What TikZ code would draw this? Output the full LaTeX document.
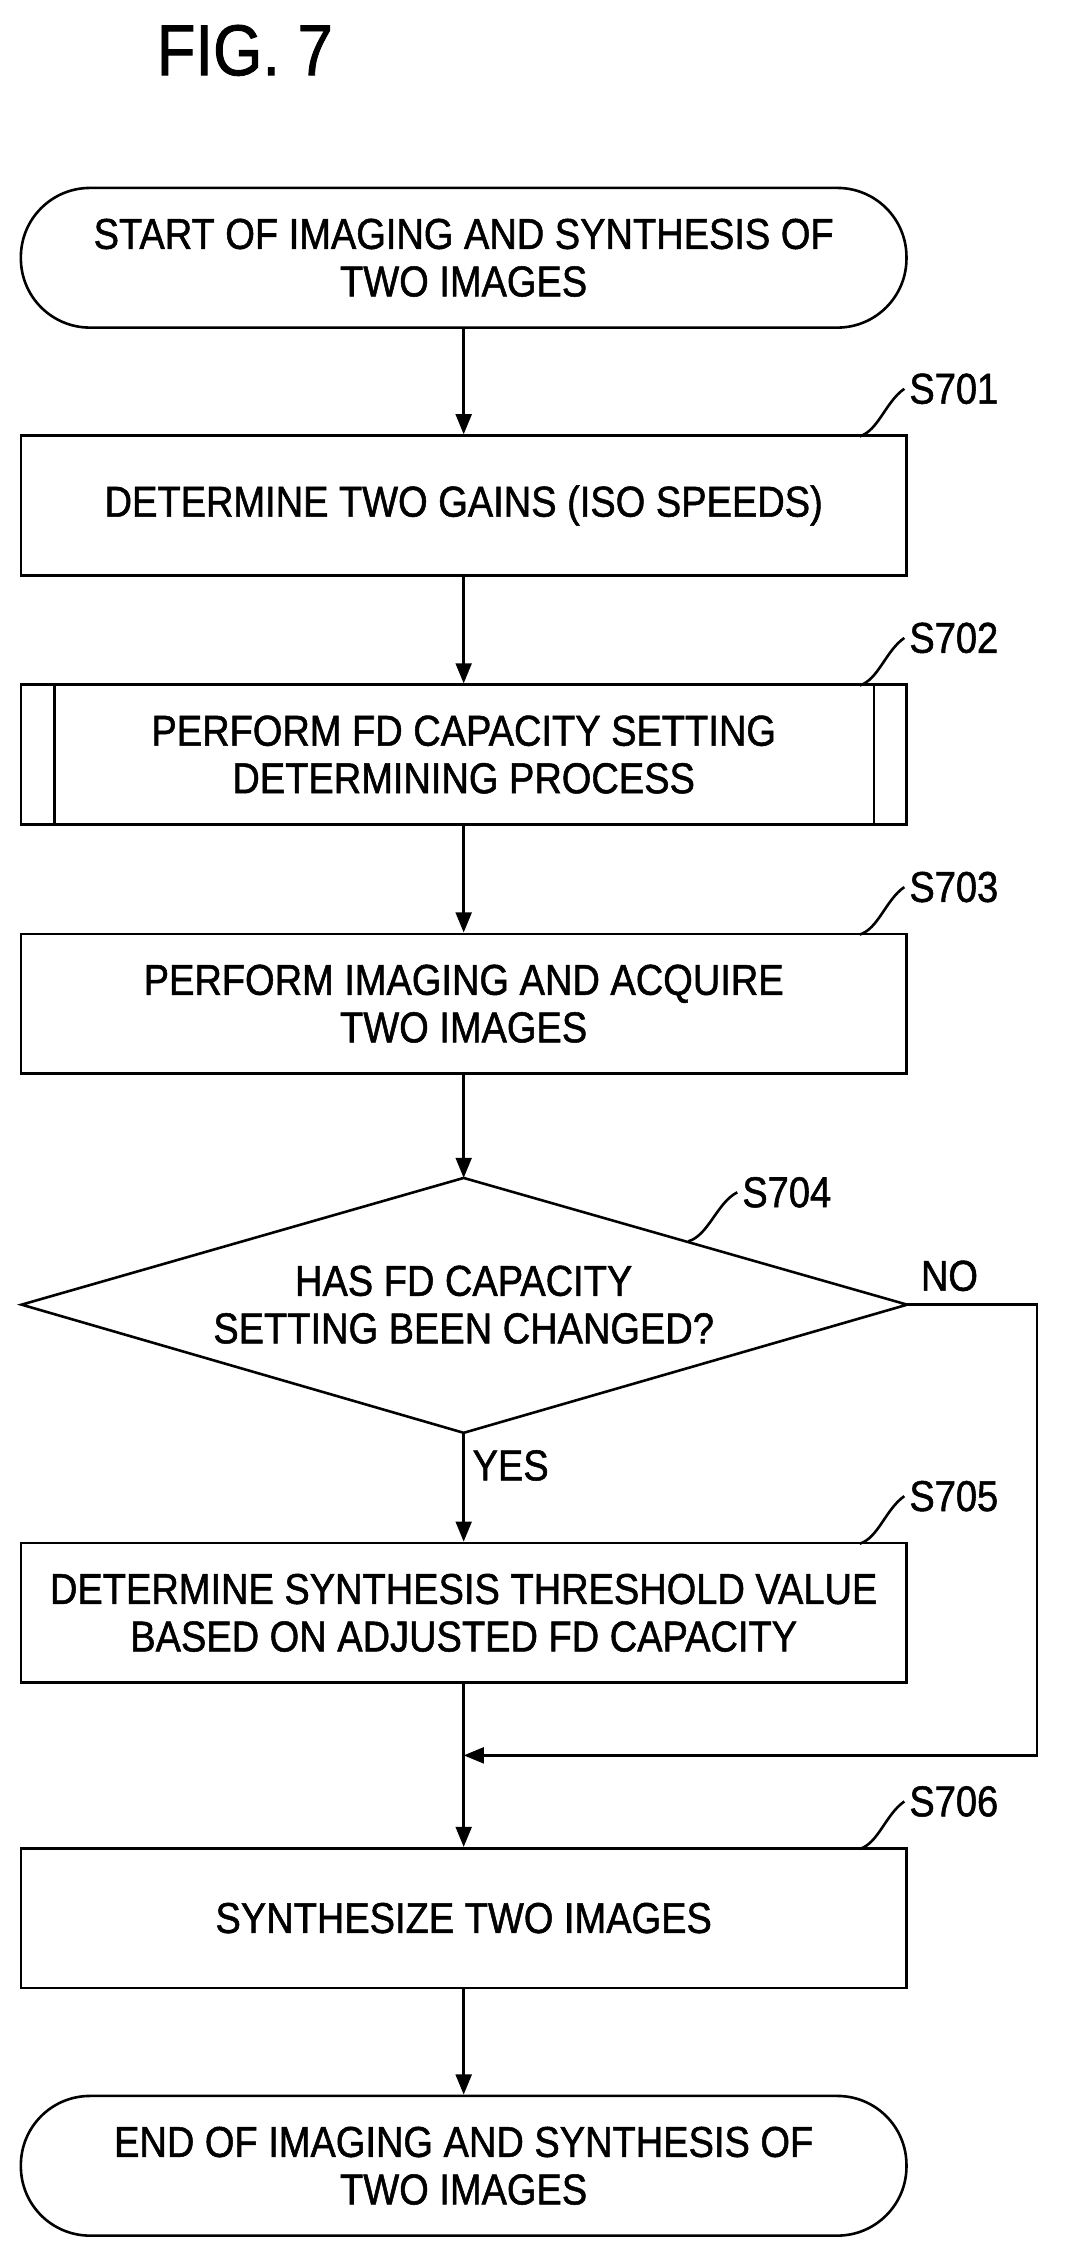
\documentclass[tikz,border=0pt]{standalone}
\usepackage{fontspec}
\setmainfont{Liberation Sans}[FakeStretch=0.88,FakeBold=1.2]
\usetikzlibrary{shapes.geometric,arrows.meta}
\begin{document}
\begin{tikzpicture}[x=1pt,y=-1pt,
 box/.style={draw,line width=1.8pt,minimum width=615pt,minimum height=97pt,align=center,font=\fontsize{30}{33}\selectfont,inner sep=0pt},
 term/.style={box,rounded corners=48pt},
 lab/.style={font=\fontsize{30}{33}\selectfont,anchor=west},
 ln/.style={line width=1.8pt},
 arr/.style={ln,-{Triangle[length=14pt,width=11pt]}}]
\useasboundingbox (0,0) rectangle (741,1575);
\node[font=\fontsize{50}{55}\selectfont] (title) at (170,35) {FIG. 7};
\node[term] (start) at (322,179) {START OF IMAGING AND SYNTHESIS OF\\TWO IMAGES};
\node[box] (s1) at (322,351) {DETERMINE TWO GAINS (ISO SPEEDS)};
\node[box] (s2) at (322,524) {PERFORM FD CAPACITY SETTING\\DETERMINING PROCESS};
\draw[ln] (38,476) -- (38,573) (607,476) -- (607,573);
\node[box] (s3) at (322,697) {PERFORM IMAGING AND ACQUIRE\\TWO IMAGES};
\draw[ln] (15,906) -- (322,818) -- (630,906) -- (322,995) -- cycle;
\node[align=center,font=\fontsize{30}{33}\selectfont] (dt) at (322,906) {HAS FD CAPACITY\\SETTING BEEN CHANGED?};
\coordinate (dtop) at (322,818); \coordinate (dbot) at (322,995); \coordinate (dr) at (630,906);
\node[box] (s5) at (322,1120) {DETERMINE SYNTHESIS THRESHOLD VALUE\\BASED ON ADJUSTED FD CAPACITY};
\node[box] (s6) at (322,1332) {SYNTHESIZE TWO IMAGES};
\node[term] (end) at (322,1504) {END OF IMAGING AND SYNTHESIS OF\\TWO IMAGES};
\draw[arr] (start) -- (s1);
\draw[arr] (s1) -- (s2);
\draw[arr] (s2) -- (s3);
\draw[arr] (s3) -- (dtop);
\draw[arr] (dbot) -- node[lab,pos=0.3,anchor=west,xshift=2pt]{YES} (s5);
\coordinate (m) at (322,1219); \coordinate (c1) at (720,906); \coordinate (c2) at (720,1219);
\draw[ln] (s5) -- (m);
\draw[arr] (m) -- (s6);
\draw[arr] (dr) -- (c1) -- (c2) -- (m);
\node[lab] (no) at (636,886) {NO};
\draw[arr] (s6) -- (end);
\foreach \n/\y/\t in {s1/303/S701,s2/476/S702,s3/649/S703,s5/1072/S705,s6/1284/S706}{
 \node[lab] (l\n) at (628,\y-33) {\t};
 \draw[ln] (597,\y) .. controls (610,\y-4) and (615,\y-24) .. (l\n.west);
}
\node[lab] (l4) at (512,828) {S704};
\draw[ln] (478,862) .. controls (492,858) and (498,835) .. (l4.west);
\end{tikzpicture}
\end{document}
